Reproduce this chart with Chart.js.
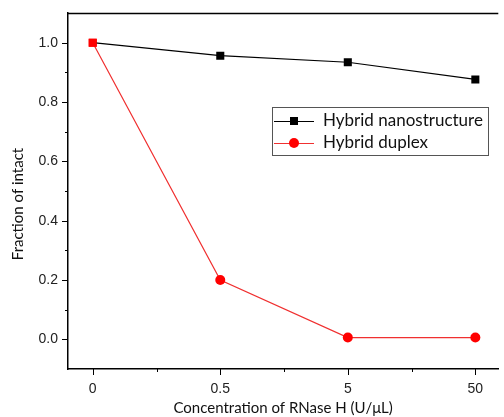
<!DOCTYPE html>
<html>
<head>
<meta charset="utf-8">
<script src="https://cdn.jsdelivr.net/npm/chart.js@4/dist/chart.umd.min.js"></script>
<style>
  html, body { margin: 0; padding: 0; background: #fff; overflow: hidden; }
  #wrap { width: 504px; height: 417px; }
</style>
</head>
<body>
<div id="wrap"><canvas id="chart" width="504" height="417"></canvas></div>
<script>
// values
const concLabels = ['0', '0.5', '5', '50'];
const nanostructure = [1.0, 0.956, 0.934, 0.876];
const duplex = [1.0, 0.2, 0.006, 0.006];
const yTickLabels = [0.0, 0.2, 0.4, 0.6, 0.8, 1.0];
const yMinorTicks = [0.1, 0.3, 0.5, 0.7, 0.9];
const xMinorTicks = [0.5, 1.5, 2.5];
const yTitle = 'Fraction of intact';

const titleFont = { family: 'Lato, "Open Sans", sans-serif', size: 15 };
const legendFont = { family: 'Lato, "Open Sans", sans-serif', size: 17 };
const tickFont = { family: '"Liberation Sans", Arial, sans-serif', size: 14 };

// ticks, top frame line, y title and the boxed legend
const framePlugin = {
    id: 'frame',
    afterDraw(chart) {
        const ctx = chart.ctx;
        const area = chart.chartArea;
        const xs = chart.scales.x, ys = chart.scales.y;
        const opts = chart.options.plugins.frame;
        ctx.save();
        ctx.strokeStyle = '#000';
        ctx.lineWidth = 1.3;
        ctx.beginPath();
        ctx.moveTo(area.left, area.top + 0.5);
        ctx.lineTo(area.right, area.top + 0.5);
        ctx.stroke();

        ctx.lineWidth = 1;
        ctx.beginPath();
        yTickLabels.forEach(v => {
            const y = Math.round(ys.getPixelForValue(v)) + 0.5;
            ctx.moveTo(area.left - 6, y); ctx.lineTo(area.left, y);
        });
        yMinorTicks.forEach(v => {
            const y = Math.round(ys.getPixelForValue(v)) + 0.5;
            ctx.moveTo(area.left - 3, y); ctx.lineTo(area.left, y);
        });
        concLabels.forEach((_, i) => {
            const x = Math.round(xs.getPixelForValue(i)) + 0.5;
            ctx.moveTo(x, area.bottom); ctx.lineTo(x, area.bottom + 6);
        });
        xMinorTicks.forEach(v => {
            const x = Math.round(xs.getPixelForValue(v)) + 0.5;
            ctx.moveTo(x, area.bottom); ctx.lineTo(x, area.bottom + 3);
        });
        ctx.stroke();

        // y axis title (sits a bit below the plot's middle in the original)
        ctx.save();
        ctx.translate(opts.titleX, opts.titleY);
        ctx.rotate(-Math.PI / 2);
        ctx.font = `${titleFont.size}px ${titleFont.family}`;
        ctx.fillStyle = '#111';
        ctx.textAlign = 'center';
        ctx.textBaseline = 'middle';
        ctx.fillText(yTitle, 0, 0);
        ctx.restore();

        // legend
        const lg = opts.legend;
        ctx.fillStyle = '#fff';
        ctx.fillRect(lg.x, lg.y, lg.w, lg.h);
        ctx.strokeStyle = '#555';
        ctx.lineWidth = 1;
        ctx.strokeRect(lg.x + 0.5, lg.y + 0.5, lg.w, lg.h);
        ctx.font = `${legendFont.size}px ${legendFont.family}`;
        ctx.textBaseline = 'middle';
        chart.data.datasets.forEach((ds, i) => {
            const cy = lg.y + 14 + i * 22;
            ctx.strokeStyle = ds.borderColor;
            ctx.lineWidth = 1;
            ctx.beginPath();
            ctx.moveTo(lg.x + 2, cy + 0.5); ctx.lineTo(lg.x + 42, cy + 0.5);
            ctx.stroke();
            ctx.fillStyle = ds.legendMarker;
            ctx.beginPath();
            if (ds.legendStyle === 'rect') ctx.rect(lg.x + 18, cy - 4, 8, 8);
            else ctx.arc(lg.x + 22, cy, 5, 0, Math.PI * 2);
            ctx.fill();
            ctx.fillStyle = '#111';
            ctx.fillText(ds.label, lg.x + 51, cy);
        });
        ctx.restore();
    }
};

new Chart(document.getElementById('chart'), {
    type: 'line',
    data: {
        datasets: [{
            label: 'Hybrid nanostructure',
            data: nanostructure.map((v, i) => ({ x: i, y: v })),
            borderColor: '#000',
            borderWidth: 1.2,
            pointStyle: 'rect',
            pointRadius: 5.7,
            pointBackgroundColor: ['#ff0000', '#000', '#000', '#000'],
            pointBorderWidth: 0,
            legendStyle: 'rect',
            legendMarker: '#000',
            order: 1
        }, {
            label: 'Hybrid duplex',
            data: duplex.map((v, i) => ({ x: i, y: v })),
            borderColor: '#f03030',
            borderWidth: 1.2,
            pointStyle: ['rect', 'circle', 'circle', 'circle'],
            pointRadius: [5.7, 5, 5, 5],
            pointBackgroundColor: '#ff0000',
            pointBorderWidth: 0,
            legendStyle: 'circle',
            legendMarker: '#ff0000',
            order: 2
        }]
    },
    options: {
        responsive: false,
        animation: false,
        layout: { padding: { top: 13, right: 0, left: 0, bottom: 0 } },
        plugins: {
            legend: { display: false },
            tooltip: { enabled: false },
            frame: {
                titleX: 18, titleY: 204,
                legend: { x: 272, y: 107, w: 216, h: 48 }
            }
        },
        scales: {
            x: {
                type: 'linear',
                min: -0.194,
                max: 3.18,
                afterBuildTicks: s => { s.ticks = concLabels.map((_, i) => ({ value: i })); },
                afterFit: s => { s.height = 48; s.paddingLeft = 0; s.paddingRight = 0; },
                grid: { display: false, drawTicks: false },
                border: { display: true, color: '#000', width: 1.5 },
                ticks: {
                    autoSkip: false,
                    maxRotation: 0,
                    padding: 12,
                    color: '#222',
                    font: tickFont,
                    callback: v => concLabels[v]
                },
                title: {
                    display: true,
                    text: 'Concentration of RNase H (U/μL)',
                    color: '#111',
                    font: titleFont,
                    padding: { top: 0, bottom: 0 }
                }
            },
            y: {
                min: -0.1,
                max: 1.1,
                afterBuildTicks: s => { s.ticks = yTickLabels.map(v => ({ value: v })); },
                afterFit: s => { s.width = 68; s.paddingTop = 0; s.paddingBottom = 0; },
                grid: { display: false, drawTicks: false },
                border: { display: true, color: '#000', width: 1.5 },
                ticks: {
                    padding: 10,
                    color: '#222',
                    font: tickFont,
                    callback: v => v.toFixed(1)
                }
            }
        }
    },
    plugins: [framePlugin]
});
</script>
</body>
</html>
